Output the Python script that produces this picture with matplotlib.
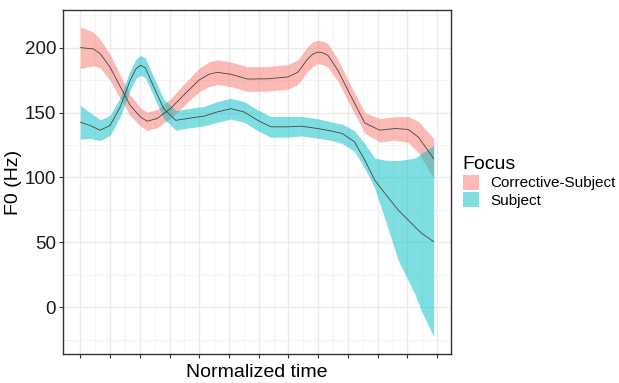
import matplotlib.pyplot as plt
from matplotlib.patches import Patch
import numpy as np

plt.rcParams['font.family'] = ['Liberation Sans', 'DejaVu Sans']

# Corrective-Subject (red): normalized time, mean F0, half width of the band
red_x = [0.000, 0.037, 0.056, 0.084, 0.113, 0.141, 0.170, 0.189, 0.217, 0.255,
         0.302, 0.336, 0.364, 0.388, 0.426, 0.473, 0.530, 0.587, 0.615, 0.624,
         0.644, 0.658, 0.672, 0.686, 0.701, 0.729, 0.767, 0.805, 0.847, 0.890,
         0.928, 0.957, 1.000]
red_mean = [200, 199, 195.4, 185, 170, 155.6, 146.6, 143.3, 145.4, 153,
            166, 175, 179.5, 181, 179.5, 175.8, 176, 177.4, 181, 184,
            191.5, 195, 196.6, 196, 194, 182.5, 162, 142, 136.4, 137.7,
            137, 131, 114.5]
red_hw = [16, 13, 11, 10, 9, 8, 7, 7, 7, 7.5,
          8.5, 9, 9.5, 9.5, 9.5, 9.5, 9.5, 9.5, 9.5, 9.5,
          9.5, 9.5, 9, 9, 9, 8.5, 8, 8, 9, 9,
          10, 12, 15.5]

# Subject (cyan): normalized time, mean F0, lower and upper band
cyan_x = [0.000, 0.028, 0.056, 0.084, 0.113, 0.141, 0.157, 0.170, 0.184, 0.208,
          0.236, 0.270, 0.322, 0.350, 0.388, 0.426, 0.463, 0.502, 0.539, 0.587,
          0.625, 0.672, 0.710, 0.742, 0.776, 0.805, 0.833, 0.862, 0.900, 0.947,
          0.966, 1.000]
cyan_mean = [142.5, 140, 136.4, 140, 154.3, 174.8, 183.5, 186.4, 184.5, 169.7,
             153, 144, 146.2, 147.2, 150.5, 153, 150.5, 144, 139, 139,
             139.5, 137.7, 135.8, 133.8, 127.4, 113.3, 98, 87.7, 74.8, 62,
             57, 50.5]
cyan_lo = [129.5, 130, 128.4, 132.3, 146.8, 167.3, 176, 178.8, 177, 162.2,
           145.5, 136.5, 138.7, 139.7, 142.5, 145, 142.5, 136, 131, 131,
           132, 130.2, 128.7, 126, 120, 107, 92, 68, 36, 10,
           -3.3, -22.6]
cyan_hi = [155.5, 150, 144.4, 147.7, 161.8, 182.3, 191, 194, 192, 177.2,
           160.5, 151.5, 153.7, 154.7, 158.5, 161, 158.5, 152, 147, 147,
           147, 145.2, 142.8, 141, 136, 126, 115, 113.3, 113, 115,
           118.5, 124.8]

red_col = '#F8766D'
cyan_col = '#00BFC4'

fig = plt.figure(figsize=(6.19, 3.83), dpi=100)
ax = fig.add_axes([63 / 619, 29 / 383, 388 / 619, 344 / 383])

red_mean = np.array(red_mean)
red_hw = np.array(red_hw)
ax.fill_between(red_x, red_mean - red_hw, red_mean + red_hw, color=red_col,
                alpha=0.5, linewidth=0, zorder=2)
ax.fill_between(cyan_x, cyan_lo, cyan_hi, color=cyan_col, alpha=0.5,
                linewidth=0, zorder=2)
ax.plot(red_x, red_mean, color='#444444', linewidth=0.6, zorder=3)
ax.plot(cyan_x, cyan_mean, color='#444444', linewidth=0.6, zorder=3)

# x ticks every ~0.0842 of the data range, no labels
step = 29.6 / 351.7
xt = np.arange(13) * step
ax.set_xticks(xt)
ax.set_xticks(xt[:-1] + step / 2, minor=True)
ax.set_xticklabels([])
ax.set_xlim(-0.049, 1.049)

ax.set_yticks([0, 50, 100, 150, 200])
ax.set_yticks([-25, 25, 75, 125, 175, 225], minor=True)
ax.set_ylim(-36, 229)

ax.grid(which='major', color='#EBEBEB', linewidth=1.0, zorder=0)
ax.grid(which='minor', color='#F3F3F3', linewidth=0.6, zorder=0)
ax.set_axisbelow(True)
for s in ax.spines.values():
    s.set_color('#333333')
    s.set_linewidth(1.0)
ax.tick_params(which='major', length=3, width=0.8, color='#333333',
               labelsize=13.5, labelcolor='#1a1a1a', pad=2)
ax.tick_params(which='minor', length=0)

ax.set_xlabel('Normalized time', fontsize=14, labelpad=2)
ax.set_ylabel('F0 (Hz)', fontsize=14, labelpad=2)

handles = [Patch(facecolor=red_col, alpha=0.5, edgecolor='none'),
           Patch(facecolor=cyan_col, alpha=0.5, edgecolor='none')]
leg = ax.legend(handles, ['Corrective-Subject', 'Subject'], title='Focus',
                loc='center left', bbox_to_anchor=(1.03, 0.5), frameon=False,
                fontsize=11, title_fontsize=14, handlelength=1.1,
                handleheight=1.1, labelspacing=0.1, handletextpad=0.7,
                borderpad=0, borderaxespad=0, alignment='left')

fig.savefig('out.png', dpi=100)
